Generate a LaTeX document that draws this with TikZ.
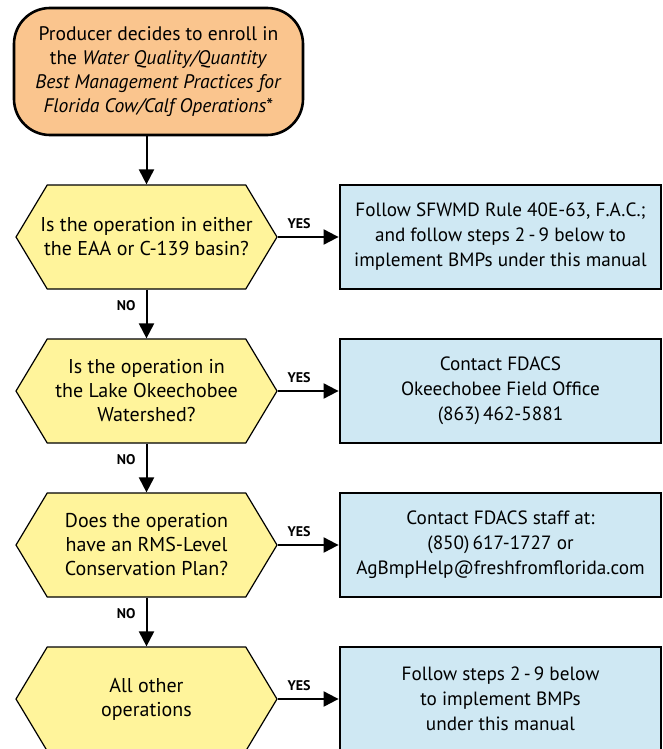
\documentclass[tikz,border=0pt]{standalone}
\usepackage{fontspec}
\setmainfont{PT Sans}
\usetikzlibrary{arrows.meta,shapes.symbols}

\definecolor{startorange}{RGB}{250,197,142}
\definecolor{askyellow}{RGB}{255,244,155}
\definecolor{doblue}{RGB}{207,232,243}

\tikzset{
  startbox/.style={draw, line width=1.3pt, fill=startorange, rounded corners=18pt,
    minimum width=144.5pt, minimum height=63.5pt, align=center,
    font=\fontsize{9.8}{12}\selectfont},
  askbox/.style={draw, line width=0.6pt, fill=askyellow, signal, signal to=east and west,
    signal pointer angle=118, minimum width=130.5pt, minimum height=52pt, inner sep=0pt},
  asktext/.style={align=center, font=\fontsize{10}{12}\selectfont},
  dobox/.style={draw, line width=1.4pt, fill=doblue, minimum width=160.5pt,
    minimum height=52pt, align=center, font=\fontsize{9.6}{12.5}\selectfont},
  flow/.style={line width=1pt, -{Triangle[length=7.5pt,width=7.5pt]}},
  tag/.style={font=\fontsize{7}{8}\selectfont\bfseries, inner sep=1pt}
}

\begin{document}
\begin{tikzpicture}[x=0.5pt,y=-0.5pt]
  \useasboundingbox (0,0) rectangle (663,749);

  \node[startbox] (start) at (158.5,71.5)
    {Producer decides to enroll in\\the \textit{Water Quality/Quantity}\\
     \textit{Best Management Practices for}\\\textit{Florida Cow/Calf Operations}*};

  % questions on the left, answers on the right
  \foreach \i/\q/\a in {
      1/{Is the operation in either\\the EAA or C-139 basin?}/{Follow SFWMD Rule 40E-63, F.A.C.;\\and follow steps 2\,-\,9 below to\\implement BMPs under this manual},
      2/{Is the operation in\\the Lake Okeechobee\\Watershed?}/{Contact FDACS\\Okeechobee Field Office\\(863)\,462-5881},
      3/{Does the operation\\have an RMS-Level\\Conservation Plan?}/{Contact FDACS staff at:\\(850)\,617-1727 or\\AgBmpHelp@freshfromflorida.com},
      4/{All other\\operations}/{Follow steps 2\,-\,9 below\\to implement BMPs\\under this manual}}
  {
    \node[askbox, label={[asktext]center:{\q}}] (ask\i) at (146.5,{237+154*(\i-1)}) {};
    \node[dobox] (do\i) at (500.5,{237+154*(\i-1)}) {\a};
    \draw[flow] (ask\i.east) -- node[tag, above=2.5pt, pos=0.35] {YES} (do\i.west);
  }

  \draw[flow] (ask1.north |- start.south) -- (ask1.north);
  \foreach \i/\j in {1/2,2/3,3/4}
    \draw[flow] (ask\i.south) -- node[tag, left=4pt, pos=0.33] {NO} (ask\j.north);

\end{tikzpicture}
\end{document}
